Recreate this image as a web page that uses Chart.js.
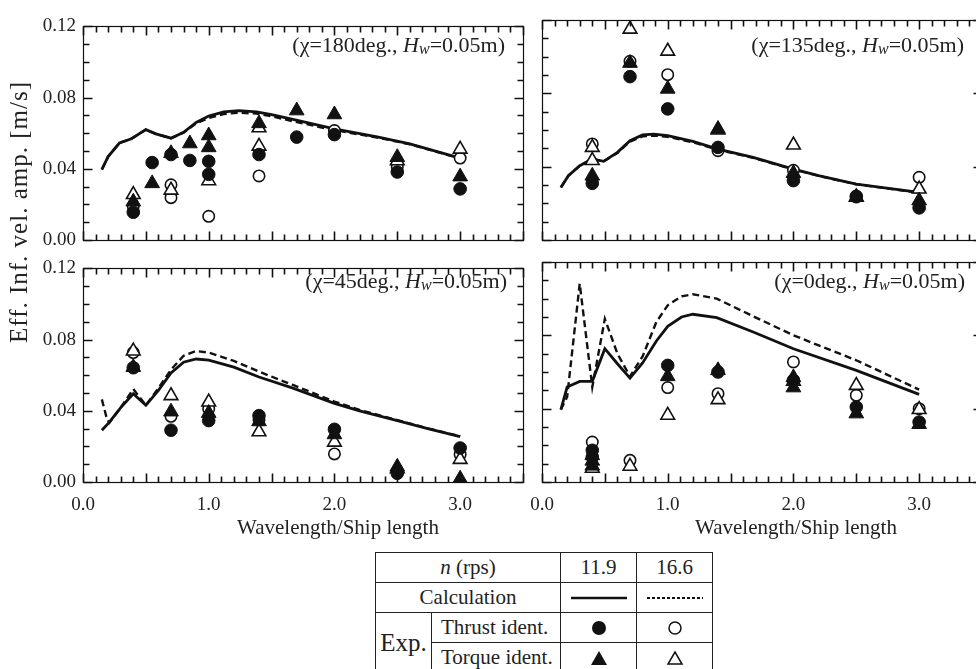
<!DOCTYPE html>
<html>
<head>
<meta charset="utf-8">
<script src="https://cdn.jsdelivr.net/npm/chart.js@4.4.1/dist/chart.umd.min.js"></script>
<style>
  body { margin: 0; width: 976px; height: 669px; overflow: hidden; background: #fff;
         position: relative; font-family: 'Liberation Serif', 'Times New Roman', serif; color: #222; }
  canvas { position: absolute; }
  .note { position: absolute; font-size: 22px; white-space: nowrap; transform: translate(-100%, -50%); }
  .note .sub { font-size: 16px; position: relative; top: 2px; }
  .xtitle { position: absolute; font-size: 21px; white-space: nowrap; transform: translate(-50%, -50%); }
  .ytitle { position: absolute; font-size: 25px; letter-spacing: 1px; white-space: nowrap;
            transform: translate(-50%, -50%) rotate(-90deg); }
  #key { position: absolute; left: 375px; top: 552px; border-collapse: collapse; font-size: 21px; }
  #key td { border: 1px solid #222; height: 29px; padding: 0; line-height: 1; }
  #key td.c { text-align: center; }
  #key td.l { padding-left: 9px; }
  #key td.exp { font-size: 25px; text-align: center; }
  #key svg { display: block; margin: 0 auto; }
</style>
</head>
<body>
<canvas id="c180" width="522" height="268" style="left:13px;top:8px"></canvas>
<canvas id="c135" width="522" height="268" style="left:472px;top:8px"></canvas>
<canvas id="c45" width="522" height="268" style="left:13px;top:250px"></canvas>
<canvas id="c0" width="522" height="268" style="left:472px;top:250px"></canvas>

<div class="note" style="left:505px;top:45px">(χ=180deg., <i>H</i><i class="sub">w</i>=0.05m)</div>
<div class="note" style="left:964px;top:45px">(χ=135deg., <i>H</i><i class="sub">w</i>=0.05m)</div>
<div class="note" style="left:507px;top:281px">(χ=45deg., <i>H</i><i class="sub">w</i>=0.05m)</div>
<div class="note" style="left:965px;top:281px">(χ=0deg., <i>H</i><i class="sub">w</i>=0.05m)</div>

<div class="ytitle" style="left:19px;top:212px">Eff. Inf. vel. amp. [m/s]</div>
<div class="xtitle" style="left:338px;top:527px">Wavelength/Ship length</div>
<div class="xtitle" style="left:796px;top:527px">Wavelength/Ship length</div>

<table id="key">
  <colgroup><col style="width:56px"><col style="width:129px"><col style="width:76px"><col style="width:76px"></colgroup>
  <tr><td colspan="2" class="c"><i>n</i> (rps)</td><td class="c">11.9</td><td class="c">16.6</td></tr>
  <tr><td colspan="2" class="c">Calculation</td>
      <td><svg width="56" height="4"><line x1="0" y1="2" x2="56" y2="2" stroke="#111" stroke-width="2.6"/></svg></td>
      <td><svg width="56" height="4"><line x1="0" y1="2" x2="56" y2="2" stroke="#111" stroke-width="2" stroke-dasharray="3,2"/></svg></td></tr>
  <tr><td rowspan="2" class="exp">Exp.</td><td class="l">Thrust ident.</td>
      <td><svg width="16" height="16"><circle cx="8" cy="8" r="7" fill="#111"/></svg></td>
      <td><svg width="16" height="16"><circle cx="8" cy="8" r="6" fill="#fff" stroke="#111" stroke-width="1.5"/></svg></td></tr>
  <tr><td class="l">Torque ident.</td>
      <td><svg width="18" height="16"><polygon points="9,1 17,15 1,15" fill="#111"/></svg></td>
      <td><svg width="18" height="16"><polygon points="9,2 16,14 2,14" fill="#fff" stroke="#111" stroke-width="1.5"/></svg></td></tr>
</table>

<script>
// Calculated curves, [wavelength/ship length, amplitude m/s]
const calc119_180 = [[0.15,0.0396],[0.2,0.0469],[0.29,0.0545],[0.385,0.0569],[0.5,0.062],[0.58,0.0596],[0.7,0.0572],[0.8,0.0605],[0.9,0.066],[1.0,0.0696],[1.12,0.072],[1.24,0.0727],[1.38,0.072],[1.5,0.0705],[1.67,0.0678],[2.0,0.0624],[2.34,0.058],[2.6,0.054],[3.0,0.046]];
const calc166_180 = [[0.15,0.0396],[0.2,0.0469],[0.29,0.0545],[0.385,0.0569],[0.5,0.062],[0.58,0.0596],[0.7,0.0572],[0.8,0.0603],[0.9,0.0655],[1.0,0.0686],[1.12,0.0708],[1.24,0.0715],[1.38,0.071],[1.5,0.0695],[1.67,0.0667],[2.0,0.0617],[2.34,0.0576],[2.6,0.0538],[3.0,0.0458]];
const calc119_135 = [[0.15,0.0287],[0.21,0.0351],[0.3,0.0405],[0.4,0.0442],[0.49,0.0429],[0.6,0.0478],[0.7,0.0542],[0.8,0.0573],[0.89,0.0578],[1.0,0.0569],[1.2,0.0538],[1.4,0.0496],[1.68,0.0451],[2.0,0.0387],[2.2,0.0351],[2.5,0.0305],[3.0,0.026]];
const calc166_135 = [[0.15,0.0287],[0.21,0.0351],[0.3,0.0405],[0.4,0.0442],[0.49,0.0429],[0.6,0.0475],[0.7,0.0537],[0.8,0.0565],[0.89,0.057],[1.0,0.0563],[1.2,0.0533],[1.4,0.0492],[1.68,0.0448],[2.0,0.0385],[2.2,0.035],[2.5,0.0304],[3.0,0.0258]];
const calc119_45 = [[0.15,0.0291],[0.21,0.0336],[0.3,0.0418],[0.4,0.0496],[0.5,0.0431],[0.6,0.0515],[0.7,0.0613],[0.8,0.0673],[0.9,0.0691],[1.0,0.0685],[1.2,0.0645],[1.4,0.059],[1.67,0.0527],[2.0,0.0442],[2.2,0.04],[2.5,0.0345],[2.75,0.0298],[3.0,0.0255]];
const calc166_45 = [[0.15,0.0464],[0.19,0.0355],[0.21,0.0333],[0.3,0.0418],[0.4,0.0522],[0.5,0.0431],[0.6,0.0527],[0.7,0.0631],[0.8,0.0709],[0.9,0.0736],[1.0,0.0727],[1.2,0.068],[1.4,0.062],[1.67,0.0545],[2.0,0.0452],[2.2,0.0405],[2.5,0.0348],[2.75,0.03],[3.0,0.0257]];
const calc119_0 = [[0.15,0.0395],[0.2,0.0518],[0.3,0.0549],[0.4,0.0549],[0.5,0.0727],[0.6,0.0645],[0.7,0.0567],[0.8,0.0649],[0.91,0.0769],[1.0,0.0849],[1.11,0.09],[1.2,0.0915],[1.39,0.0896],[1.68,0.0818],[2.0,0.0727],[2.5,0.0609],[3.0,0.0478]];
const calc166_0 = [[0.15,0.0395],[0.2,0.0464],[0.3,0.1082],[0.4,0.0518],[0.5,0.089],[0.6,0.07],[0.7,0.0576],[0.8,0.0685],[0.91,0.0873],[1.0,0.0964],[1.11,0.1013],[1.2,0.1024],[1.39,0.1],[1.68,0.0904],[2.0,0.08],[2.5,0.0664],[3.0,0.0504]];

// Experiments: thrust / torque identification at 11.9 and 16.6 rps
const thrust119_180 = [[0.4,0.0156],[0.55,0.0435],[0.7,0.048],[0.85,0.0447],[1.0,0.0442],[1.0,0.0369],[1.4,0.048],[1.7,0.0578],[2.0,0.0592],[2.5,0.0382],[3.0,0.0287]];
const torque119_180 = [[0.4,0.0215],[0.55,0.0318],[0.7,0.0487],[0.85,0.0542],[1.0,0.0587],[1.0,0.052],[1.4,0.0655],[1.7,0.0727],[2.0,0.0705],[2.5,0.0465],[3.0,0.0356]];
const thrust166_180 = [[0.4,0.019],[0.7,0.0238],[0.7,0.031],[1.0,0.0133],[1.4,0.036],[2.0,0.0615],[2.5,0.041],[3.0,0.046]];
const torque166_180 = [[0.4,0.0255],[0.7,0.028],[1.0,0.0333],[1.4,0.063],[1.4,0.0527],[2.5,0.0445],[3.0,0.051]];

const thrust119_135 = [[0.4,0.0309],[0.7,0.0891],[1.0,0.0715],[1.4,0.0505],[2.0,0.0324],[2.5,0.0236],[3.0,0.0175]];
const torque119_135 = [[0.4,0.035],[0.7,0.0965],[1.0,0.0824],[1.4,0.0605],[2.0,0.0364],[2.5,0.0233],[3.0,0.0215]];
const thrust166_135 = [[0.4,0.0524],[0.7,0.0975],[1.0,0.0902],[1.4,0.0487],[2.0,0.038],[2.5,0.024],[3.0,0.0342]];
const torque166_135 = [[0.4,0.0505],[0.4,0.0433],[0.7,0.115],[1.0,0.103],[1.4,0.06],[2.0,0.0518],[2.5,0.0235],[3.0,0.0278]];

const thrust119_45 = [[0.4,0.0642],[0.7,0.0291],[1.0,0.0345],[1.4,0.0373],[2.0,0.0296],[2.5,0.0049],[3.0,0.0191]];
const torque119_45 = [[0.4,0.0645],[0.7,0.0395],[1.0,0.0387],[1.4,0.034],[2.0,0.0267],[2.5,0.0085],[3.0,0.0018]];
const thrust166_45 = [[0.4,0.0727],[0.7,0.0369],[1.0,0.041],[1.4,0.035],[2.0,0.0158],[2.5,0.006],[3.0,0.0155]];
const torque166_45 = [[0.4,0.0736],[0.7,0.0485],[1.0,0.0449],[1.4,0.0282],[2.0,0.0224],[2.5,0.0075],[3.0,0.0127]];

const thrust119_0 = [[0.4,0.0173],[0.4,0.0136],[1.0,0.0636],[1.4,0.06],[2.0,0.0555],[2.5,0.0409],[3.0,0.0327]];
const torque119_0 = [[0.4,0.0145],[0.4,0.0115],[0.4,0.0088],[1.0,0.0576],[1.4,0.0609],[2.0,0.057],[2.0,0.0515],[2.5,0.0373],[3.0,0.0315]];
const thrust166_0 = [[0.4,0.0218],[0.7,0.0118],[1.0,0.0515],[1.4,0.0482],[2.0,0.0655],[2.5,0.0473],[3.0,0.04]];
const torque166_0 = [[0.4,0.0075],[0.7,0.0086],[1.0,0.0364],[1.4,0.0449],[2.0,0.055],[2.5,0.0527],[3.0,0.0395]];

const xTicks = [0, 1, 2, 3];
const yTicks = [0, 0.04, 0.08, 0.12];

const ink = '#111';
const tickFont = { family: "'Liberation Serif', 'Times New Roman', serif", size: 19 };

// Box border plus inward ticks: x every 0.1 (major 0.5), y every 0.01 (major 0.04)
const frameTicks = {
  id: 'frameTicks',
  afterDraw(chart) {
    const { ctx, chartArea: a } = chart;
    const L = Math.round(a.left) + 0.5, R = Math.round(a.right) + 0.5;
    const T = Math.round(a.top) + 0.5, B = Math.round(a.bottom) + 0.5;
    ctx.save();
    ctx.strokeStyle = '#111';
    ctx.lineWidth = 1.6;
    ctx.setLineDash([]);
    ctx.beginPath();
    for (let i = 0; i <= 35; i++) {
      const px = Math.round(a.left + (a.right - a.left) * i / 35) + 0.5;
      const len = i % 5 === 0 ? 9 : 6;
      ctx.moveTo(px, B);
      ctx.lineTo(px, B - len);
      ctx.moveTo(px, T);
      ctx.lineTo(px, T + len);
    }
    for (let j = 0; j <= 12; j++) {
      const py = Math.round(a.bottom - (a.bottom - a.top) * j / 12) + 0.5;
      const len = j % 4 === 0 ? 9 : 6;
      ctx.moveTo(L, py);
      ctx.lineTo(L + len, py);
      ctx.moveTo(R, py);
      ctx.lineTo(R - len, py);
    }
    ctx.stroke();
    ctx.lineWidth = 1.2;
    ctx.strokeRect(L, T, R - L, B - T);
    ctx.restore();
  }
};

function toXY(arr) {
  return arr.map(([x, y]) => ({ x, y }));
}

function markerSet(arr, shape, filled) {
  const r = shape === 'triangle' ? 8.5 : 6.3;
  return {
    type: 'scatter',
    data: toXY(arr),
    pointStyle: shape,
    pointRadius: filled ? r : r - 0.6,
    pointHoverRadius: r,
    backgroundColor: filled ? ink : '#fff',
    borderColor: ink,
    borderWidth: filled ? 1 : 1.6,
    showLine: false,
  };
}

function calcSet(arr, dashed) {
  return {
    type: 'line',
    data: toXY(arr),
    borderColor: ink,
    borderWidth: dashed ? 2.4 : 2.8,
    borderDash: dashed ? [7, 4] : [],
    pointRadius: 0,
    tension: 0,
    fill: false,
  };
}

function initPanel(id, sets, showX, showY) {
  const ctx = document.getElementById(id);
  return new Chart(ctx, {
    type: 'scatter',
    data: {
      datasets: [
        markerSet(sets.torque119, 'triangle', true),
        markerSet(sets.thrust119, 'circle', true),
        markerSet(sets.torque166, 'triangle', false),
        markerSet(sets.thrust166, 'circle', false),
        calcSet(sets.calc119, false),
        calcSet(sets.calc166, true),
      ]
    },
    options: {
      responsive: false,
      animation: false,
      events: [],
      layout: { padding: { top: 12, right: 12, left: 0, bottom: 0 } },
      plugins: { legend: { display: false }, tooltip: { enabled: false } },
      scales: {
        x: {
          type: 'linear', min: 0, max: 3.5,
          grid: { display: false, drawTicks: false }, border: { display: false },
          afterFit: s => { s.height = 36; },
          afterBuildTicks: s => { s.ticks = xTicks.map(v => ({ value: v })); },
          ticks: { display: showX, font: tickFont, color: '#222', padding: 12, maxRotation: 0,
                   callback: v => v.toFixed(1) },
        },
        y: {
          type: 'linear', min: 0, max: 0.12,
          grid: { display: false, drawTicks: false }, border: { display: false },
          afterFit: s => { s.width = 70; },
          afterBuildTicks: s => { s.ticks = yTicks.map(v => ({ value: v })); },
          ticks: { display: showY, font: tickFont, color: '#222', padding: 7,
                   callback: v => v.toFixed(2) },
        }
      }
    },
    plugins: [frameTicks]
  });
}

initPanel('c180', { calc119: calc119_180, calc166: calc166_180, thrust119: thrust119_180,
  torque119: torque119_180, thrust166: thrust166_180, torque166: torque166_180 }, false, true);
initPanel('c135', { calc119: calc119_135, calc166: calc166_135, thrust119: thrust119_135,
  torque119: torque119_135, thrust166: thrust166_135, torque166: torque166_135 }, false, false);
initPanel('c45', { calc119: calc119_45, calc166: calc166_45, thrust119: thrust119_45,
  torque119: torque119_45, thrust166: thrust166_45, torque166: torque166_45 }, true, true);
initPanel('c0', { calc119: calc119_0, calc166: calc166_0, thrust119: thrust119_0,
  torque119: torque119_0, thrust166: thrust166_0, torque166: torque166_0 }, true, false);
</script>
</body>
</html>
